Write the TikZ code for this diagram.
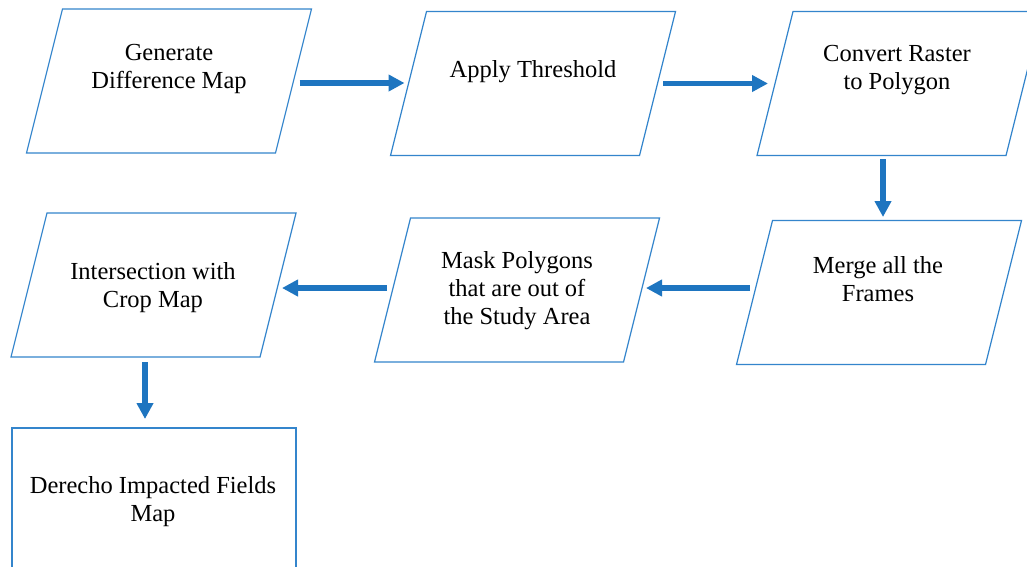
\documentclass[tikz,border=0pt]{standalone}
\usepackage{fontspec}
\setmainfont{Liberation Serif}
\usetikzlibrary{arrows.meta,calc}
\definecolor{boxblue}{RGB}{52,133,204}
\definecolor{arrowblue}{RGB}{30,117,192}
\tikzset{
  frame/.style={minimum width=249pt, minimum height=144pt, inner sep=0pt, outer sep=0pt},
  edgeline/.style={draw=boxblue, line width=1.2pt, line join=miter},
  txt/.style={font=\fontsize{24.5}{28}\selectfont, align=center, inner sep=0pt, text=black},
  flow/.style={draw=arrowblue, line width=5.5pt, -{Triangle[length=16pt,width=16pt]}}
}
\begin{document}
\begin{tikzpicture}[x=1pt,y=-1pt]
\clip (0,0) rectangle (1027,566);
\fill[white] (0,0) rectangle (1027,566);

\node[frame] (b1) at (169,81) {};
\node[frame] (b2) at (533,83.5) {};
\node[frame] (b3) at (899.5,83.5) {};
\node[frame] (b4) at (879,292.5) {};
\node[frame] (b5) at (517,290) {};
\node[frame] (b6) at (153.5,285) {};
\node[frame, minimum width=284pt, minimum height=150pt] (b7) at (154,503) {};

\foreach \n in {b1,b2,b3,b4,b5,b6}
  \draw[edgeline] ([xshift=18pt]\n.north west) -- ([xshift=18pt]\n.north east)
    -- ([xshift=-18pt]\n.south east) -- ([xshift=-18pt]\n.south west) -- cycle;
\draw[edgeline] (b7.north west) rectangle (b7.south east);

\node[txt] (t1) at (169,69) {Generate\\Difference Map};
\node[txt] (t2) at (533,72) {Apply Threshold};
\node[txt] (t3) at (897,70) {Convert Raster\\to Polygon};
\node[txt] (t4) at (878,279.5) {Merge all the\\Frames};
\node[txt] (t5) at (517,290.5) {Mask Polygons\\that are out of\\the Study Area};
\node[txt] (t6) at (153,287.5) {Intersection with\\Crop Map};
\node[txt] (t7) at (153,501.5) {Derecho Impacted Fields\\Map};

\draw[flow, shorten <=6pt, shorten >=4pt] ([yshift=-2pt]b1.east) -- ([yshift=-2pt]b1.east -| b2.west);
\draw[flow, shorten <=5.5pt, shorten >=7pt] (b2.east) -- (b2.east -| b3.west);
\draw[flow, shorten <=3.5pt, shorten >=3.5pt] ([xshift=-16.5pt]b3.south) -- ([xshift=-16.5pt]b3.south |- b4.north);
\draw[flow, shorten <=4.5pt, shorten >=4.5pt] ([yshift=4.5pt]b4.west) -- ([yshift=4.5pt]b4.west -| b5.east);
\draw[flow, shorten <=5.5pt, shorten >=4pt] ([yshift=2pt]b5.west) -- ([yshift=2pt]b5.west -| b6.east);
\draw[flow, shorten <=5pt, shorten >=9pt] ([xshift=-8.5pt]b6.south) -- ([xshift=-8.5pt]b6.south |- b7.north);
\end{tikzpicture}
\end{document}
